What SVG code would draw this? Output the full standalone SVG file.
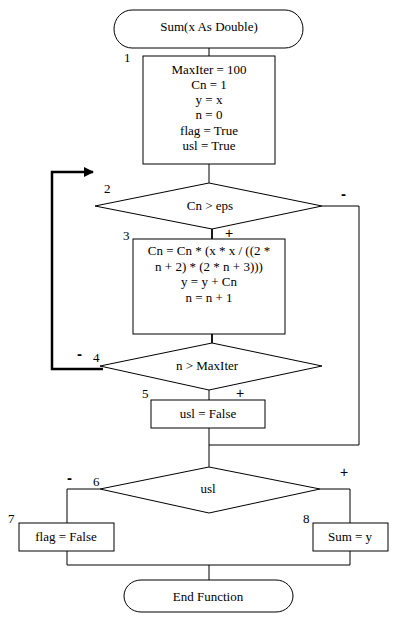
<svg xmlns="http://www.w3.org/2000/svg" width="402" height="619" viewBox="0 0 402 619">
<defs>
<style>
.s{fill:#fff;stroke:#000;stroke-width:1}
.c{fill:none;stroke:#000;stroke-width:1}
.k{fill:none;stroke:#000;stroke-width:2.5}
.t{font-family:"Liberation Serif","Times New Roman",serif;font-size:13px;fill:#000;text-anchor:middle}
.l{font-family:"Liberation Serif","Times New Roman",serif;font-size:13px;fill:#000}
.m{font-family:"Liberation Sans",Arial,sans-serif;font-size:15px;font-weight:bold;fill:#000}
.p{font-family:"Liberation Sans",Arial,sans-serif;font-size:14px;fill:#000}
</style>
<marker id="ah" viewBox="0 0 10 10" refX="9" refY="5" markerWidth="4" markerHeight="4" orient="auto" markerUnits="strokeWidth">
<path d="M0,0 L10,5 L0,10 z" fill="#000"/>
</marker>
</defs>
<rect width="402" height="619" fill="#fff"/>
<g id="connectors">
<path class="c" d="M209,48 V56"/>
<path class="c" d="M209,164 V183"/>
<path class="c" d="M212,229 V239" style="stroke-width:1.8"/>
<path class="c" d="M212,334 V343" style="stroke-width:1.8"/>
<path class="c" d="M209,390 V400"/>
<path class="c" d="M209,428 V467"/>
<path class="c" d="M322,206 H359 V445 H209"/>
<path class="k" d="M103,369 H52 V172 H93" marker-end="url(#ah)"/>
<path class="c" d="M100,489 H67 V523"/>
<path class="c" d="M320,489 H350 V523"/>
<path class="c" d="M67,551 V565 H350 V551"/>
<path class="c" d="M209,565 V580"/>
</g>
<g id="start">
<path class="s" d="M132,10 H285 A18,19 0 0 1 285,48 H132 A18,19 0 0 1 132,10 Z"/>
<text class="t" x="209" y="31">Sum(x As Double)</text>
</g>
<g id="n1">
<rect class="s" x="143" y="56" width="132" height="108"/>
<text class="l" x="124" y="62">1</text>
<text class="t" x="209" y="74">MaxIter = 100</text>
<text class="t" x="209" y="89">Cn = 1</text>
<text class="t" x="209" y="104">y = x</text>
<text class="t" x="209" y="119">n = 0</text>
<text class="t" x="209" y="135">flag = True</text>
<text class="t" x="209" y="150">usl = True</text>
</g>
<g id="n2">
<polygon class="s" points="209,183 322,206 212,229 95,206"/>
<text class="l" x="104" y="193">2</text>
<text class="t" x="210" y="210">Cn &gt; eps</text>
<text class="m" x="341" y="199">-</text>
</g>
<g id="n3">
<rect class="s" x="133" y="239" width="152" height="95"/>
<text class="l" x="123" y="240">3</text>
<text class="p" x="225" y="238">+</text>
<text class="t" x="209" y="255">Cn = Cn * (x * x / ((2 *</text>
<text class="t" x="209" y="271">n + 2) * (2 * n + 3)))</text>
<text class="t" x="209" y="286">y = y + Cn</text>
<text class="t" x="209" y="302">n = n + 1</text>
</g>
<g id="n4">
<polygon class="s" points="212,343 322,366 209,390 100,366"/>
<text class="l" x="93" y="362">4</text>
<text class="m" x="77" y="359">-</text>
<text class="t" x="207" y="370">n &gt; MaxIter</text>
<text class="p" x="236" y="398">+</text>
</g>
<g id="n5">
<rect class="s" x="151" y="400" width="114" height="28"/>
<text class="l" x="142" y="398">5</text>
<text class="t" x="208" y="418">usl = False</text>
</g>
<g id="n6">
<polygon class="s" points="209,467 320,489 209,513 100,489"/>
<text class="l" x="93" y="486">6</text>
<text class="m" x="67" y="483">-</text>
<text class="p" x="340" y="477">+</text>
<text class="t" x="208" y="493">usl</text>
</g>
<g id="n7">
<rect class="s" x="19" y="523" width="95" height="28"/>
<text class="l" x="8" y="523">7</text>
<text class="t" x="66" y="541">flag = False</text>
</g>
<g id="n8">
<rect class="s" x="313" y="523" width="75" height="28"/>
<text class="l" x="303" y="523">8</text>
<text class="t" x="350" y="541">Sum = y</text>
</g>
<g id="end">
<path class="s" d="M141,580 H276 A17,16 0 0 1 276,612 H141 A17,16 0 0 1 141,580 Z"/>
<text class="t" x="208" y="601">End Function</text>
</g>
</svg>
